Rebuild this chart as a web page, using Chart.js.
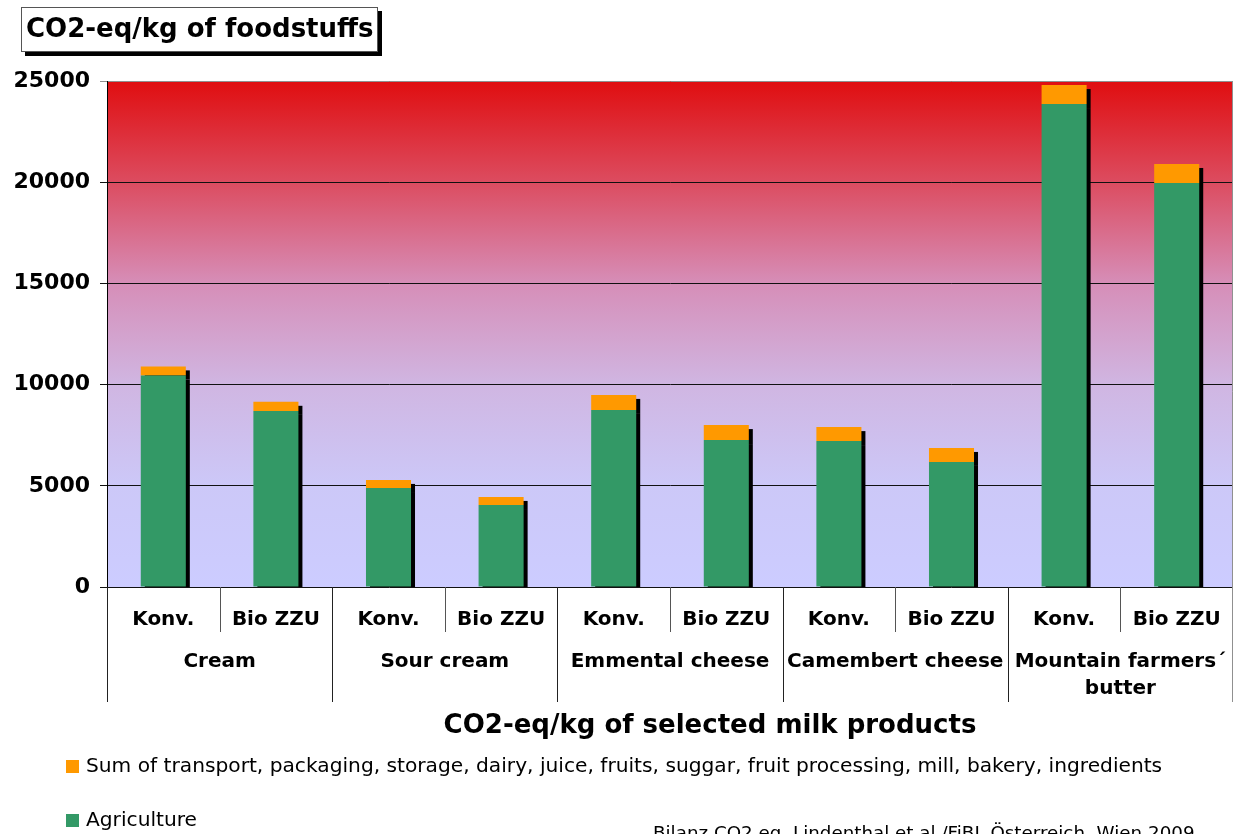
<!DOCTYPE html>
<html>
<head>
<meta charset="utf-8">
<script src="https://cdn.jsdelivr.net/npm/chart.js@4.4.0/dist/chart.umd.min.js"></script>
<style>
  html, body { margin: 0; padding: 0; background: #fff; }
  #wrap { width: 1234px; height: 834px; }
</style>
</head>
<body>
<div id="wrap"><canvas id="chart" width="1234" height="834"></canvas></div>
<script>
// values
const groups = ['Cream', 'Sour cream', 'Emmental cheese', 'Camembert cheese', ['Mountain farmers\u00b4', 'butter']];
const categories = ['Konv.', 'Bio ZZU', 'Konv.', 'Bio ZZU', 'Konv.', 'Bio ZZU', 'Konv.', 'Bio ZZU', 'Konv.', 'Bio ZZU'];
const agriculture = [10450, 8700, 4890, 4050, 8750, 7260, 7210, 6180, 23860, 19960];
const otherSteps = [450, 450, 400, 400, 740, 740, 690, 690, 940, 940];
const yTicks = [0, 5000, 10000, 15000, 20000, 25000];

const chartTitle = 'CO2-eq/kg of foodstuffs';
const xTitle = 'CO2-eq/kg of selected milk products';
const sourceNote = 'Bilanz CO2 eq. Lindenthal et al./FiBL \u00d6sterreich, Wien 2009';

const GREEN = '#339966';
const ORANGE = '#ff9900';
const FONT = '"DejaVu Sans", Verdana, sans-serif';

Chart.defaults.font.family = FONT;
Chart.defaults.color = '#000';

// red -> lavender backdrop behind the bars
const backdrop = {
	id: 'backdrop',
	beforeDraw(chart) {
		const {ctx, chartArea: a} = chart;
		ctx.save();
		ctx.fillStyle = '#fff';
		ctx.fillRect(0, 0, chart.width, chart.height);
		const g = ctx.createLinearGradient(0, a.top, 0, a.bottom);
		g.addColorStop(0, 'rgb(224,14,16)');
		g.addColorStop(0.2, 'rgb(220,76,96)');
		g.addColorStop(0.4, 'rgb(214,142,184)');
		g.addColorStop(0.6, 'rgb(208,182,226)');
		g.addColorStop(0.8, 'rgb(204,200,248)');
		g.addColorStop(1, 'rgb(204,204,255)');
		ctx.fillStyle = g;
		ctx.fillRect(a.left, a.top, a.right - a.left, a.bottom - a.top);
		ctx.restore();
	}
};

// black drop shadow to the right of each bar
const barShadow = {
	id: 'barShadow',
	beforeDatasetsDraw(chart) {
		const ctx = chart.ctx;
		const bottom = chart.chartArea.bottom;
		ctx.save();
		ctx.fillStyle = '#000';
		chart.data.datasets.forEach((ds, i) => {
			chart.getDatasetMeta(i).data.forEach(bar => {
				const top = bar.y + 4;
				const end = Math.min(bar.base + 4, bottom);
				if (end > top)
					ctx.fillRect(bar.x - bar.width / 2 + 4, top, bar.width, end - top);
			});
		});
		ctx.restore();
	}
};

// title box, two-level category axis, legend and source
const decorations = {
	id: 'decorations',
	afterDraw(chart) {
		const {ctx, chartArea: a} = chart;
		const x = chart.scales.x;
		const n = categories.length;
		const step = (a.right - a.left) / n;
		ctx.save();

		// right border of plot
		ctx.strokeStyle = '#909090';
		ctx.lineWidth = 1;
		ctx.beginPath();
		ctx.moveTo(a.right - 0.5, a.top);
		ctx.lineTo(a.right - 0.5, 702);
		ctx.stroke();

		// separators below the axis
		for (let i = 0; i < n; i++) {
			const bx = Math.round(a.left + i * step) + 0.5;
			ctx.strokeStyle = i % 2 === 0 ? '#222' : '#555';
			ctx.beginPath();
			ctx.moveTo(bx, a.bottom);
			ctx.lineTo(bx, i % 2 === 0 ? 702 : 632);
			ctx.stroke();
		}

		ctx.fillStyle = '#000';
		ctx.textAlign = 'center';
		ctx.textBaseline = 'middle';
		ctx.font = 'bold 20px ' + FONT;
		categories.forEach((c, i) => ctx.fillText(c, x.getPixelForValue(i), 620));
		groups.forEach((g, j) => {
			const cx = (x.getPixelForValue(2 * j) + x.getPixelForValue(2 * j + 1)) / 2;
			[].concat(g).forEach((line, k) => ctx.fillText(line, cx, 662 + k * 27));
		});

		ctx.font = 'bold 26px ' + FONT;
		ctx.fillText(xTitle, 710, 726);

		// legend, top stack first
		ctx.textAlign = 'left';
		ctx.font = '20.2px ' + FONT;
		const items = chart.data.datasets.slice().reverse();
		items.forEach((ds, k) => {
			const y = 767 + k * 54;
			ctx.fillStyle = ds.backgroundColor;
			ctx.fillRect(66, y - 7, 13, 13);
			ctx.fillStyle = '#000';
			ctx.fillText(ds.label, 86, y);
		});

		ctx.font = '18.3px ' + FONT;
		ctx.textBaseline = 'alphabetic';
		ctx.fillText(sourceNote, 653, 839);

		// chart title in a shadowed box
		ctx.fillStyle = '#000';
		ctx.fillRect(25, 11, 357, 45);
		ctx.fillStyle = '#fff';
		ctx.fillRect(21, 7, 357, 45);
		ctx.strokeStyle = '#555';
		ctx.strokeRect(21.5, 7.5, 356, 44);
		ctx.fillStyle = '#000';
		ctx.font = 'bold 26px ' + FONT;
		ctx.textBaseline = 'middle';
		ctx.fillText(chartTitle, 26, 30);

		ctx.restore();
	}
};

new Chart(document.getElementById('chart'), {
	type: 'bar',
	data: {
		labels: categories,
		datasets: [
			{
				label: 'Agriculture',
				data: agriculture,
				backgroundColor: GREEN,
			},
			{
				label: 'Sum of transport, packaging, storage, dairy, juice, fruits, suggar, fruit processing, mill, bakery, ingredients',
				data: otherSteps,
				backgroundColor: ORANGE,
			},
		],
	},
	options: {
		responsive: false,
		animation: false,
		devicePixelRatio: 1,
		layout: { padding: { top: 81, right: 1, bottom: 247, left: 0 } },
		datasets: { bar: { barPercentage: 0.4, categoryPercentage: 1 } },
		plugins: {
			legend: { display: false },
			title: { display: false },
			tooltip: { enabled: false },
		},
		scales: {
			x: {
				stacked: true,
				display: false,
			},
			y: {
				stacked: true,
				min: 0,
				max: 25000,
				afterBuildTicks: axis => { axis.ticks = yTicks.map(v => ({ value: v })); },
				afterFit: axis => { axis.width = 107; },
				ticks: {
					padding: 10,
					font: { size: 22, weight: 'bold' },
					color: '#000',
					callback: v => String(v),
				},
				grid: {
					color: c => c.tick && c.tick.value === 25000 ? '#909090' : '#111',
					lineWidth: 1,
					tickLength: 7,
				},
				border: { color: '#000', width: 1 },
			},
		},
	},
	plugins: [backdrop, barShadow, decorations],
});
</script>
</body>
</html>
